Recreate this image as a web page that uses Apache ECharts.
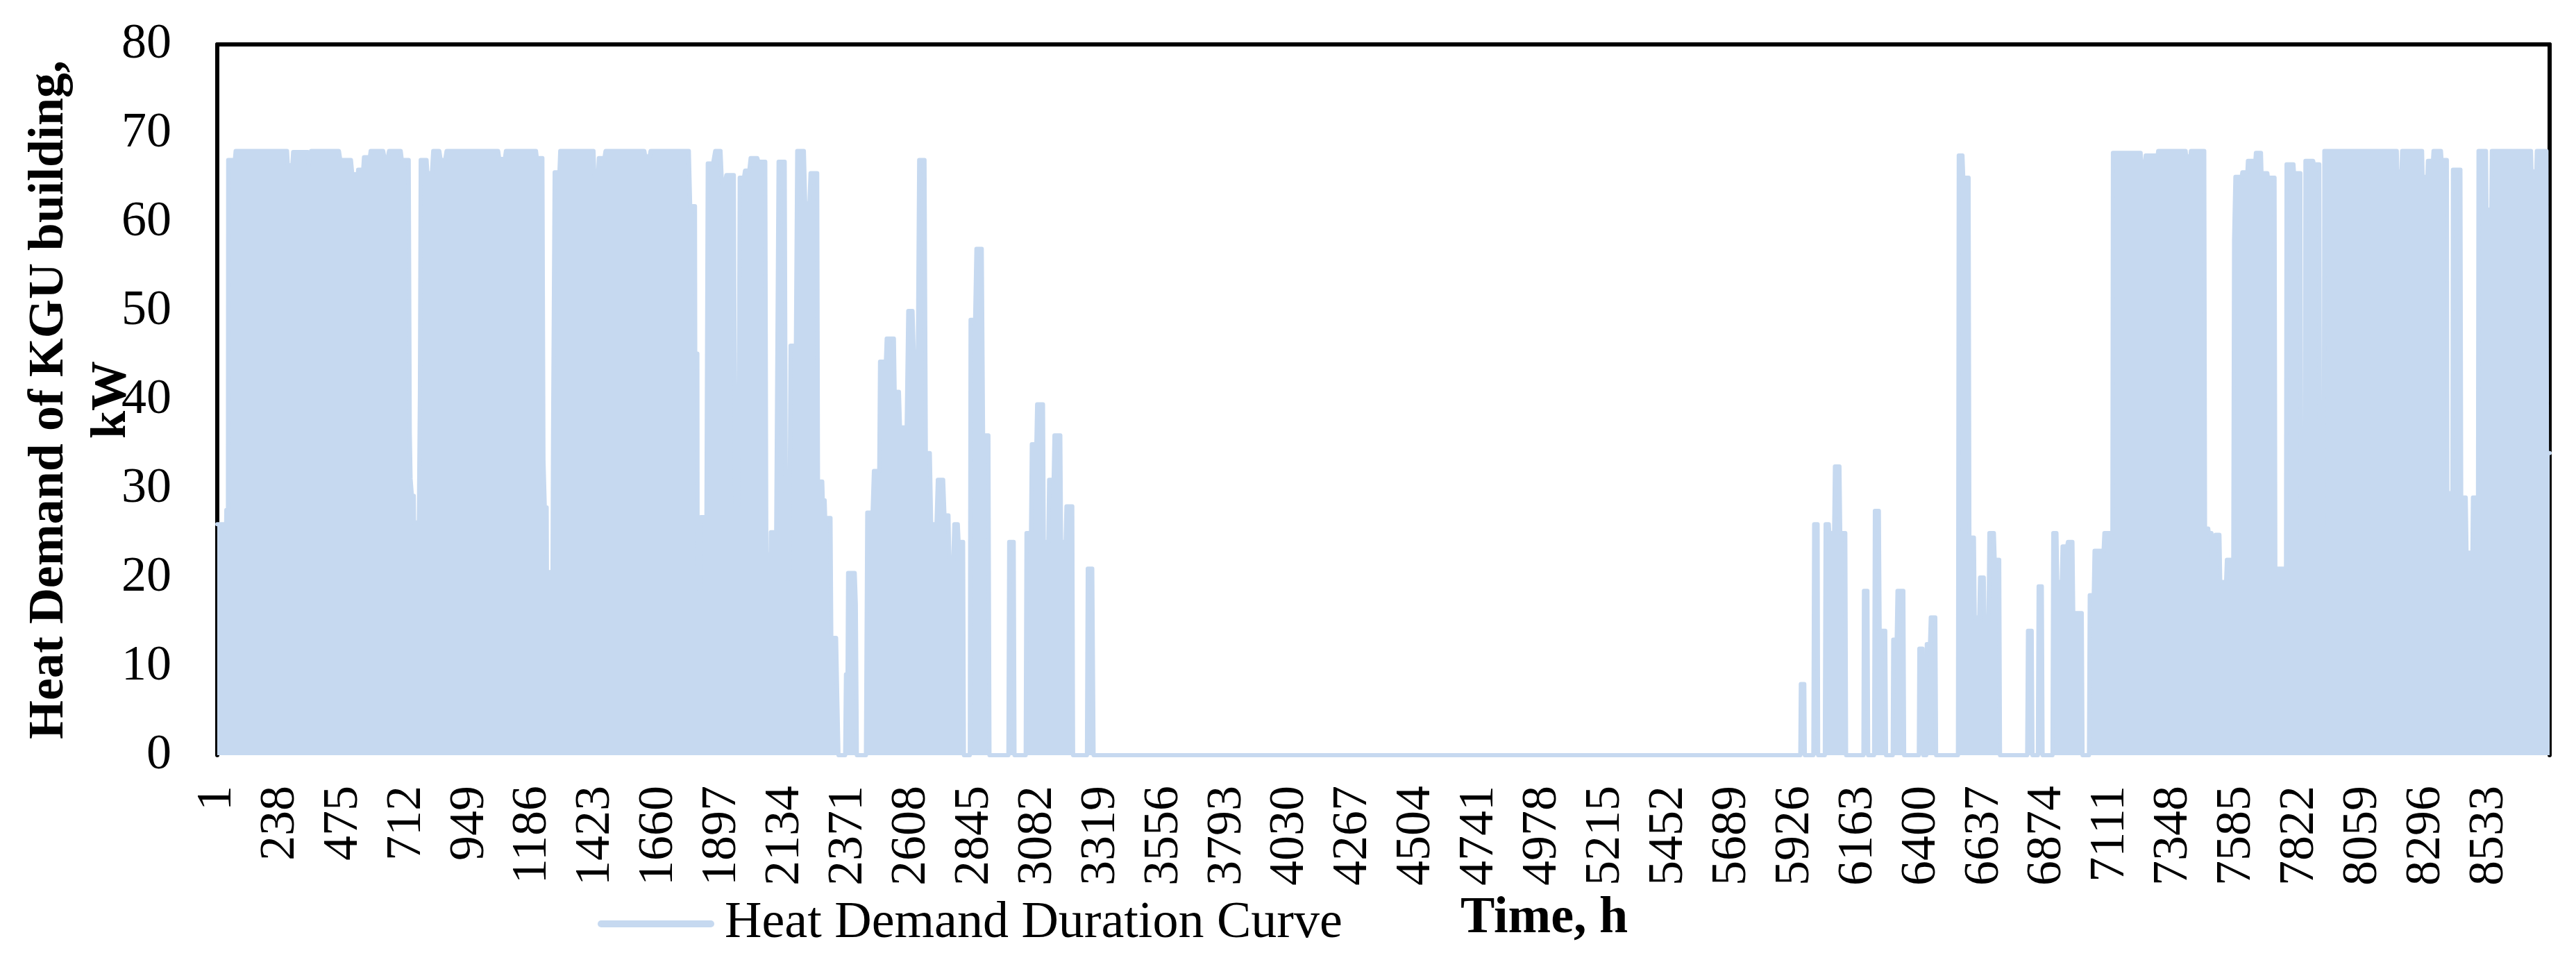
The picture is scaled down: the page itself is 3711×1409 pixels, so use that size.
<!DOCTYPE html>
<html>
<head>
<meta charset="utf-8">
<script src="https://cdn.jsdelivr.net/npm/echarts@6/dist/echarts.min.js"></script>
<style>html,body{margin:0;padding:0;background:#fff;}#c{width:3711px;height:1409px;}</style>
</head>
<body>
<div id="c"></div>
<script>
// ---- data ----
const HOURS_IN_YEAR = 8760;
const hourLabels = Array.from({length: HOURS_IN_YEAR}, (_, i) => String(i + 1));
const yTicks = [0, 10, 20, 30, 40, 50, 60, 70, 80];
const seriesName = 'Heat Demand Duration Curve';
// envelope of the hourly curve: [start hour, end hour, kW]
const winterStart = [
  [1,25,26],[26,34,25.2],[35,41,27.6],[42,67,67],[70,263,68],[266,283,66.4],[286,341,67.9],[344,348,66.4],
  [353,458,68],[463,503,67],[508,529,65.4],[530,549,65.9],[552,574,67.3],[577,624,68],[629,641,67.2],
  [646,690,68],[694,720,67],[724,725,36.3],[727,730,31.1],[732,739,29.2],[740,758,26.2],[762,762,40.8],
  [765,787,67],[790,807,65.5],[812,835,68],[840,857,67],[862,1056,68],[1060,1081,67.1],[1085,1198,68],
  [1201,1222,67.2],[1226,1229,33.3],[1231,1238,27.9],[1239,1260,20.6],[1262,1265,35.8],[1268,1286,65.6],
  [1289,1414,68],[1417,1431,65.3],[1434,1455,67.2],[1459,1605,68],[1608,1625,67.4],[1628,1772,68],
  [1777,1795,61.8],[1796,1804,45.2],[1805,1816,18.8],[1817,1838,26.8],[1843,1863,66.6],[1871,1891,68],
  [1896,1908,64.5],[1913,1941,65.3],[1946,1958,28.2],[1963,1979,65],[1983,1999,65.8],[2004,2029,67.2],
  [2033,2059,66.8],[2063,2079,22.6],[2080,2100,25.1],[2109,2132,66.8],[2137,2149,19.9],[2154,2174,46.1],
  [2179,2204,68],[2209,2225,62.1],[2229,2254,65.5],[2257,2273,30.8],[2275,2282,28.7],[2284,2304,26.7],
  [2307,2325,13.2],[2329,2331,7],[2334,2359,0],[2362,2368,9.1],[2370,2395,20.5],[2399,2401,17],
  [2403,2437,0],[2442,2462,27.3],[2467,2487,32],[2490,2512,44.3],[2515,2542,46.9],[2545,2561,40.9],
  [2565,2590,36.9],[2596,2612,50],[2617,2632,45],[2637,2657,67],[2662,2677,34],[2682,2702,26],
  [2707,2727,31],[2732,2747,27],[2750,2765,22],[2769,2782,26],[2785,2802,24],[2805,2827,0],
  [2830,2847,49],[2852,2872,57],[2877,2897,36],[2901,2972,0],[2975,2992,24],[2995,3037,0],
  [3040,3057,25],[3060,3077,35],[3080,3102,39.5],[3105,3122,24],[3125,3142,31],[3145,3167,36],
  [3170,3187,24],[3190,3212,28],[3215,3267,0],[3270,3287,21]
];
const summer = [[3292,5946,0]];
const spring = [
  [5948,5961,8],[5963,5995,0],[5998,6011,26],[6013,6038,0],[6041,6053,26],[6055,6073,25],[6076,6093,32.5],
  [6096,6115,25],[6118,6183,0],[6185,6198,18.5],[6201,6223,0],[6226,6241,27.5],[6244,6265,14],[6268,6293,0],
  [6295,6308,13],[6311,6333,18.5],[6336,6391,0],[6393,6405,12],[6408,6419,0],[6421,6433,12.5],
  [6436,6453,15.5],[6456,6538,0],[6541,6555,67.5],[6558,6578,65],[6581,6598,24.5],[6601,6618,15.5],
  [6621,6635,20],[6638,6653,15],[6656,6673,25],[6676,6693,22],[6696,6798,0],[6801,6815,14],[6818,6838,0],
  [6841,6853,19],[6856,6893,0],[6896,6908,25],[6911,6928,19.5],[6931,6948,23.5],[6951,6968,24],
  [6971,7003,16],[7006,7030,0],[7033,7048,18],[7051,7085,23],[7088,7118,25]
];
const winterEnd = [
  [7120,7224,67.8],[7226,7241,66.8],[7243,7288,67.5],[7290,7393,68],[7395,7411,67.4],[7413,7463,68],
  [7466,7478,25.5],[7480,7490,25],[7492,7503,22.5],[7505,7520,24.8],[7523,7545,19.5],[7548,7572,22],
  [7575,7578,58],[7580,7604,65.1],[7606,7625,65.6],[7627,7655,66.9],[7657,7676,67.8],[7678,7700,65.5],
  [7702,7727,65],[7730,7770,21],[7772,7798,66.5],[7800,7824,65.5],[7826,7840,22],[7843,7872,66.9],
  [7874,7895,66.5],[7898,7912,26],[7914,8186,68],[8188,8204,65.7],[8206,8281,68],[8283,8301,65.1],
  [8303,8322,66.9],[8324,8352,68],[8354,8374,67],[8376,8395,29.5],[8397,8425,65.9],[8428,8445,29],
  [8448,8470,22.8],[8472,8491,29],[8493,8521,68],[8523,8541,61.4],[8543,8690,68],[8692,8710,65.7],
  [8712,8748,68],[8750,8760,34]
];

// ---- build series points (category index = hour - 1) ----
const segments = [].concat(winterStart, summer, spring, winterEnd);
const curve = [];
segments.forEach(s => { curve.push([s[0] - 1, s[2]]); curve.push([s[1] - 1, s[2]]); });

const FONT = 'Liberation Serif';
const BLUE = '#C6D9F0';
const chart = echarts.init(document.getElementById('c'), null, {renderer: 'canvas'});
chart.setOption({
  animation: false,
  backgroundColor: '#fff',
  grid: {left: 313, right: 38, top: 64, bottom: 321, containLabel: false, outerBoundsMode: 'none'},
  legend: {
    data: [seriesName], left: 856, top: 1288, padding: 5,
    icon: 'path://M5,0 L163,0 A5,5 0 0 1 163,10 L5,10 A5,5 0 0 1 5,0 Z',
    itemWidth: 168, itemHeight: 10,
    textStyle: {fontFamily: FONT, fontSize: 74, color: '#000', padding: [0, 0, 0, 10], lineHeight: 76}
  },
  xAxis: [{
    type: 'category', data: hourLabels, boundaryGap: false, position: 'bottom',
    axisLine: {show: false}, axisTick: {show: false}, splitLine: {show: false},
    axisLabel: {interval: 236, rotate: 90, margin: 44, fontFamily: FONT, fontSize: 72, color: '#000'}
  }, {
    type: 'category', data: hourLabels, boundaryGap: false, position: 'top',
    axisLine: {show: true, onZero: false, lineStyle: {color: '#000', width: 6}},
    axisTick: {show: false}, axisLabel: {show: false}, splitLine: {show: false}
  }],
  yAxis: [{
    type: 'value', min: 0, max: 80, interval: 10, position: 'left',
    name: 'Heat Demand of KGU building,\nkW', nameLocation: 'middle', nameRotate: 90, nameGap: 107,
    nameMoveOverlap: false,
    nameTextStyle: {fontFamily: FONT, fontSize: 72, fontWeight: 'bold', color: '#000', lineHeight: 90, align: 'center'},
    axisLine: {show: true, onZero: false, lineStyle: {color: '#000', width: 6}},
    axisTick: {show: false}, splitLine: {show: false},
    axisLabel: {margin: 66, fontFamily: FONT, fontSize: 72, color: '#000',
      formatter: v => yTicks.indexOf(v) >= 0 ? String(v) : ''}
  }, {
    type: 'value', min: 0, max: 80, interval: 10, position: 'right',
    axisLine: {show: true, onZero: false, lineStyle: {color: '#000', width: 6}},
    axisTick: {show: false}, axisLabel: {show: false}, splitLine: {show: false}
  }],
  graphic: [{
    type: 'text', left: 2104, top: 1287,
    style: {text: 'Time, h', fontFamily: FONT, fontSize: 74, fontWeight: 'bold', fill: '#000'}
  }],
  series: [{
    name: seriesName, type: 'line', xAxisIndex: 0, yAxisIndex: 0, data: curve,
    showSymbol: false, symbol: 'none', smooth: false, sampling: null,
    lineStyle: {color: BLUE, width: 6, join: 'round', cap: 'round'},
    itemStyle: {color: BLUE},
    areaStyle: {color: BLUE, opacity: 1}
  }]
});
</script>
</body>
</html>
